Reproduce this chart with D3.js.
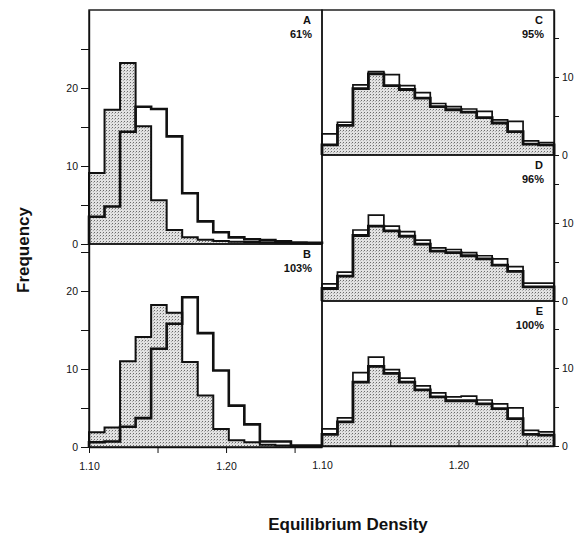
<!DOCTYPE html>
<html>
<head>
<meta charset="utf-8">
<script src="https://cdn.jsdelivr.net/npm/d3@7"></script>
<style>
  body { margin: 0; background: #fff; }
  svg text { font-family: "Liberation Sans", Arial, sans-serif; fill: #111; }
  .axis path, .axis line { stroke: #111; }
  .axis text { font-size: 10.5px; }
</style>
</head>
<body>
<div id="chart"></div>
<script>
// density range shared by all panels, 15 equal bins
const densityDomain = [1.10, 1.27]
const binCount = 15
const xTicks = [1.10, 1.15, 1.20, 1.25]
const xTickLabels = ['1.10', '', '1.20', '']
const yTicksLeft = [0, 5, 10, 15, 20, 25]
const yTicksRight = [0, 5, 10, 15]

const panelIds = ['A', 'B', 'C', 'D', 'E']
const panelPercents = ['61%', '103%', '95%', '96%', '100%']

// frequencies per bin (shaded = stippled histogram, open = unfilled outline)
const shadedA = [9.1, 17.2, 23.2, 15.1, 5.6, 1.8, 0.85, 0.55, 0.4, 0.3, 0.25, 0.2, 0.15, 0.1, 0.1]
const openA = [3.5, 4.8, 14.4, 17.6, 17.3, 13.8, 6.5, 2.9, 1.5, 0.85, 0.6, 0.5, 0.35, 0.2, 0.15]
const shadedB = [1.9, 2.5, 11.0, 14.1, 18.2, 17.2, 10.9, 6.6, 2.3, 0.85, 0.6, 0.3, 0.2, 0.1, 0.1]
const openB = [0.6, 0.7, 2.6, 3.7, 12.6, 15.8, 19.2, 14.6, 9.8, 5.3, 2.9, 0.7, 0.7, 0.2, 0.2]
const shadedC = [1.3, 3.8, 8.5, 10.4, 8.9, 8.4, 7.3, 6.2, 5.8, 5.5, 4.8, 4.1, 3.0, 1.4, 1.3]
const openC = [2.7, 4.2, 9.0, 10.7, 10.3, 8.9, 8.0, 6.6, 6.2, 5.9, 5.6, 4.5, 4.3, 1.8, 1.6]
const shadedD = [1.6, 3.2, 8.4, 9.6, 9.0, 8.3, 7.3, 6.4, 6.2, 5.8, 5.4, 4.6, 3.8, 1.8, 1.8]
const openD = [2.2, 3.7, 9.1, 11.0, 9.6, 8.9, 7.8, 6.8, 6.6, 6.2, 5.8, 5.4, 4.4, 2.3, 2.3]
const shadedE = [1.5, 3.1, 8.2, 10.2, 9.3, 8.2, 7.2, 6.3, 5.8, 5.8, 5.4, 4.8, 3.5, 1.5, 1.4]
const openE = [2.2, 3.6, 9.4, 11.4, 9.8, 8.7, 7.7, 6.8, 6.3, 6.4, 5.9, 5.4, 4.9, 2.0, 1.8]

const shadedSeries = [shadedA, shadedB, shadedC, shadedD, shadedE]
const openSeries = [openA, openB, openC, openD, openE]

const width = 577, height = 539
const pxPerUnit = 7.8
const columns = [{x0: 89, x1: 322}, {x0: 322, x1: 554}]
const layout = [
  {col: 0, top: 10, bottom: 244},
  {col: 0, top: 244, bottom: 447},
  {col: 1, top: 10, bottom: 155},
  {col: 1, top: 155, bottom: 301},
  {col: 1, top: 301, bottom: 446}
]

const svg = d3.select('#chart').append('svg')
  .attr('width', width)
  .attr('height', height)

const defs = svg.append('defs')
const pat = defs.append('pattern')
  .attr('id', 'stipple')
  .attr('width', 3).attr('height', 3)
  .attr('patternUnits', 'userSpaceOnUse')
pat.append('rect').attr('width', 3).attr('height', 3).attr('fill', '#e2e2e2')
pat.append('rect').attr('x', 1).attr('y', 1).attr('width', 1).attr('height', 1).attr('fill', '#6a6a6a')
pat.append('rect').attr('x', 0).attr('y', 2).attr('width', 1).attr('height', 1).attr('fill', '#b0b0b0')

const edges = d3.range(binCount + 1).map(i => densityDomain[0] + i * (densityDomain[1] - densityDomain[0]) / binCount)

// step outline points: start at 0, one point per bin, close back to 0
const stepPoints = values => [[edges[0], 0]]
  .concat(values.map((v, i) => [edges[i], v]))
  .concat([[edges[binCount], values[binCount - 1]], [edges[binCount], 0]])

panelIds.forEach((id, p) => {
  const L = layout[p]
  const c = columns[L.col]
  const x = d3.scaleLinear().domain(densityDomain).range([c.x0, c.x1])
  const y = d3.scaleLinear().domain([0, (L.bottom - L.top) / pxPerUnit]).range([L.bottom, L.top])
  const g = svg.append('g').attr('class', 'panel panel-' + id)

  const area = d3.area()
    .x(d => x(d[0])).y0(y(0)).y1(d => y(d[1]))
    .curve(d3.curveStepAfter)
  const line = d3.line()
    .x(d => x(d[0])).y(d => y(d[1]))
    .curve(d3.curveStepAfter)

  const sp = stepPoints(shadedSeries[p])
  g.append('path').datum(sp)
    .attr('d', area)
    .attr('fill', 'url(#stipple)')
  g.append('path').datum(sp)
    .attr('d', line)
    .attr('fill', 'none')
    .attr('stroke', '#111')
    .attr('stroke-width', L.col === 0 ? 2 : 2.8)
    .attr('stroke-linejoin', 'miter')

  g.append('path').datum(stepPoints(openSeries[p]))
    .attr('d', line)
    .attr('fill', 'none')
    .attr('stroke', '#111')
    .attr('stroke-width', L.col === 0 ? 2.6 : 1.7)
    .attr('stroke-linejoin', 'miter')

  // panel frame
  g.append('rect')
    .attr('x', c.x0).attr('y', L.top)
    .attr('width', c.x1 - c.x0).attr('height', L.bottom - L.top)
    .attr('fill', 'none').attr('stroke', '#111').attr('stroke-width', 1.4)

  // y axis
  if (L.col === 0) {
    const ax = d3.axisLeft(y)
      .tickValues(yTicksLeft.filter(t => t <= y.domain()[1]))
      .tickFormat(d => d % 10 === 0 ? d : '')
      .tickSizeInner(8).tickSizeOuter(0).tickPadding(3)
    g.append('g').attr('class', 'axis')
      .attr('transform', `translate(${c.x0},0)`)
      .call(ax)
  } else {
    const ax = d3.axisRight(y)
      .tickValues(yTicksRight.filter(t => t <= y.domain()[1]))
      .tickFormat(d => d % 10 === 0 ? d : '')
      .tickSizeInner(5).tickSizeOuter(0).tickPadding(3)
    g.append('g').attr('class', 'axis')
      .attr('transform', `translate(${c.x1},0)`)
      .call(ax)
  }

  // x axis on the lowest panel of each column
  if (p === 1 || p === 4) {
    const ax = d3.axisBottom(x)
      .tickValues(xTicks)
      .tickFormat((d, i) => xTickLabels[i])
      .tickSizeOuter(0)
    if (L.col === 0) ax.tickSizeInner(6).tickPadding(10)
    else ax.tickSizeInner(-6).tickPadding(16)
    g.append('g').attr('class', 'axis')
      .attr('transform', `translate(0,${L.bottom})`)
      .call(ax)
  }

  g.append('text')
    .attr('x', c.x1 - 11).attr('y', L.top + 14)
    .attr('text-anchor', 'end')
    .style('font-size', '11px').style('font-weight', 'bold')
    .text(id)
  g.append('text')
    .attr('x', c.x1 - 10).attr('y', L.top + 28)
    .attr('text-anchor', 'end')
    .style('font-size', '11px').style('font-weight', 'bold')
    .text(panelPercents[p])
})

svg.selectAll('.axis .domain').attr('stroke-width', 1.4)

svg.append('text')
  .attr('transform', 'translate(29,250) rotate(-90)')
  .attr('text-anchor', 'middle')
  .style('font-size', '17px').style('font-weight', 'bold')
  .text('Frequency')

svg.append('text')
  .attr('x', 348).attr('y', 530)
  .attr('text-anchor', 'middle')
  .style('font-size', '17px').style('font-weight', 'bold')
  .text('Equilibrium Density')
</script>
</body>
</html>
